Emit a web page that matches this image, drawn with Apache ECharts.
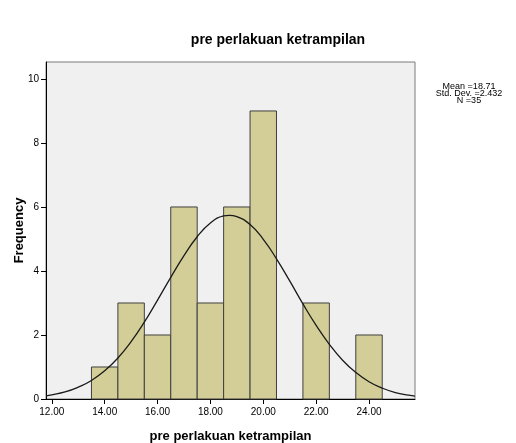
<!DOCTYPE html>
<html>
<head>
<meta charset="utf-8">
<script src="https://cdn.jsdelivr.net/npm/echarts@6/dist/echarts.min.js"></script>
<style>
  html, body { margin: 0; padding: 0; background: #fff; }
  #main { width: 516px; height: 443px; }
</style>
</head>
<body>
<div id="main"></div>
<script>
// histogram bins (width 1)
var binStart = [13.5, 14.5, 15.5, 16.5, 17.5, 18.5, 19.5, 20.5, 21.5, 22.5, 23.5];
var binCount = [1, 3, 2, 6, 3, 6, 9, 0, 3, 0, 2];
var binWidth = 1;

// normal curve
var curveX = [11.78, 12, 12.5, 13, 13.5, 14, 14.5, 15, 15.5, 16, 16.5, 17, 17.5, 18, 18.5, 18.71,
  19, 19.5, 20, 20.5, 21, 21.5, 22, 22.5, 23, 23.5, 24, 24.5, 25, 25.5, 25.74];
var curveY = [0.10, 0.13, 0.22, 0.37, 0.58, 0.88, 1.28, 1.79, 2.40, 3.09, 3.80, 4.48, 5.07, 5.50, 5.72, 5.74,
  5.70, 5.45, 4.99, 4.38, 3.69, 2.97, 2.30, 1.71, 1.21, 0.83, 0.54, 0.34, 0.20, 0.12, 0.09];

var xTicks = [12, 14, 16, 18, 20, 22, 24];
var yTicks = [0, 2, 4, 6, 8, 10];
var statsLines = ['Mean =18.71', 'Std. Dev. =2.432', 'N =35'];

var chart = echarts.init(document.getElementById('main'));

var bars = [];
for (var i = 0; i < binStart.length; i++) {
  if (binCount[i] > 0) bars.push([binStart[i], binStart[i] + binWidth, binCount[i]]);
}
var curve = curveX.map(function (x, i) { return [x, curveY[i]]; });

var font = 'Liberation Sans, Arial, sans-serif';

var option = {
  animation: false,
  textStyle: { fontFamily: font },
  title: {
    text: 'pre perlakuan ketrampilan',
    left: 273, top: 28, textAlign: 'center',
    textStyle: { fontSize: 14, fontWeight: 'bold', color: '#000', fontFamily: font }
  },
  grid: {
    left: 46, top: 62, right: 101, bottom: 44,
    outerBoundsMode: 'none', containLabel: false,
    show: true, backgroundColor: '#f0f0f0', borderColor: '#7a7a7a', borderWidth: 1
  },
  xAxis: {
    type: 'value', min: 11.78, max: 25.74,
    name: 'pre perlakuan ketrampilan', nameLocation: 'middle', nameGap: 31, nameMoveOverlap: false,
    nameTextStyle: { fontSize: 13, fontWeight: 'bold', color: '#000', fontFamily: font },
    axisLine: { lineStyle: { color: '#000', width: 1 } },
    axisTick: { customValues: xTicks, length: 5, lineStyle: { color: '#000' } },
    axisLabel: {
      customValues: xTicks, margin: 8, fontSize: 10, color: '#000',
      formatter: function (v) { return v.toFixed(2); }
    },
    splitLine: { show: false }
  },
  yAxis: {
    type: 'value', min: 0, max: 10.53,
    name: 'Frequency', nameLocation: 'middle', nameGap: 20, nameRotate: 90, nameMoveOverlap: false,
    nameTextStyle: { fontSize: 13, fontWeight: 'bold', color: '#000', fontFamily: font },
    axisLine: { show: true, lineStyle: { color: '#000', width: 1 } },
    axisTick: { show: true, customValues: yTicks, length: 5, lineStyle: { color: '#000' } },
    axisLabel: { customValues: yTicks, margin: 7, fontSize: 10, color: '#000' },
    splitLine: { show: false }
  },
  graphic: [{
    type: 'text',
    x: 469, y: 83,
    style: {
      text: statsLines.join('\n'),
      align: 'center',
      font: '9px ' + font,
      lineHeight: 7,
      fill: '#000'
    }
  }],
  series: [{
    type: 'custom',
    data: bars,
    encode: { x: [0, 1], y: 2 },
    renderItem: function (params, api) {
      var p0 = api.coord([api.value(0), api.value(2)]);
      var p1 = api.coord([api.value(1), 0]);
      return {
        type: 'rect',
        shape: { x: p0[0], y: p0[1], width: p1[0] - p0[0], height: p1[1] - p0[1] },
        style: { fill: '#d3ce97', stroke: '#3f3f3f', lineWidth: 1 }
      };
    },
    z: 2
  }, {
    type: 'line',
    data: curve,
    smooth: true,
    showSymbol: false,
    lineStyle: { color: '#1a1a1a', width: 1.3 },
    z: 3
  }]
};

chart.setOption(option);
</script>
</body>
</html>
